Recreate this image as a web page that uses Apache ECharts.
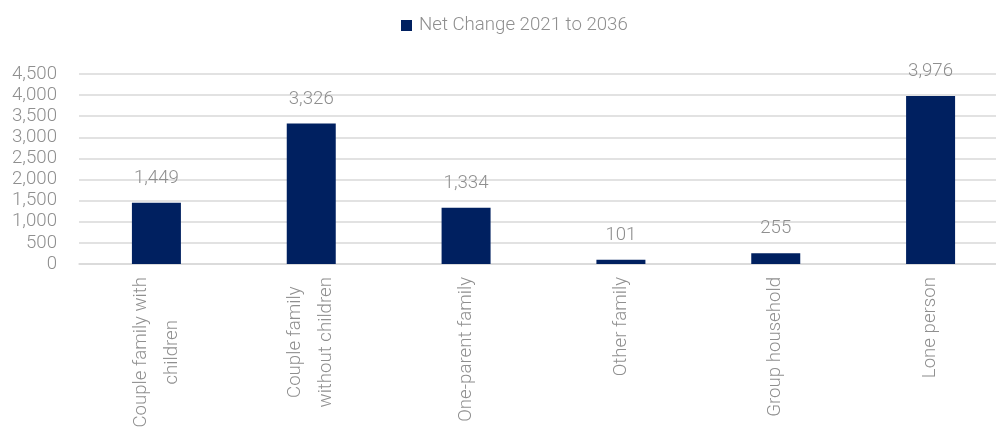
<!DOCTYPE html>
<html>
<head>
<meta charset="utf-8">
<script src="https://cdn.jsdelivr.net/npm/echarts@6/dist/echarts.min.js"></script>
<style>
html,body{margin:0;padding:0;background:#fff;overflow:hidden;}
#chart{width:1008px;height:432px;}
</style>
</head>
<body>
<div id="chart"></div>
<script>
const categories = [
  "Couple family with\nchildren",
  "Couple family\nwithout children",
  "One-parent family",
  "Other family",
  "Group household",
  "Lone person"
];
const seriesName = "Net Change 2021 to 2036";
const values = [1449, 3326, 1334, 101, 255, 3976];
const yTicks = [0, 500, 1000, 1500, 2000, 2500, 3000, 3500, 4000, 4500];

const FONT = "Roboto";
const GRAY = "#8f8f8f";
const chart = echarts.init(document.getElementById('chart'));
chart.setOption({
  animation: false,
  backgroundColor: '#fff',
  legend: {
    top: 11,
    left: 396,
    itemWidth: 11,
    itemHeight: 11,
    itemGap: 6,
    icon: 'rect',
    textStyle: {color: GRAY, fontFamily: FONT, fontWeight: 300, fontSize: 18.67, padding: [0, 0, 0, 2]},
    data: [seriesName]
  },
  grid: {left: 79, right: 0, top: 74, bottom: 168, containLabel: false},
  xAxis: {
    type: 'category',
    data: categories,
    axisLine: {show: true, lineStyle: {color: '#d9d9d9', width: 1.5}},
    axisTick: {show: false},
    axisLabel: {
      interval: 0,
      rotate: 90,
      margin: 13,
      color: GRAY,
      fontFamily: FONT,
      fontWeight: 300,
      fontSize: 18.67,
      lineHeight: 31,
      formatter: function (v) {
        return v.split('\n').map(function (s) { return '{a|' + s + '}'; }).join('\n');
      },
      rich: {a: {align: 'center', color: GRAY, fontFamily: FONT, fontWeight: 300, fontSize: 18.67, lineHeight: 31}}
    }
  },
  yAxis: {
    type: 'value',
    min: yTicks[0],
    max: yTicks[yTicks.length - 1],
    interval: 500,
    axisLine: {show: false},
    axisTick: {show: false},
    splitLine: {lineStyle: {color: '#d9d9d9', width: 1.5}},
    axisLabel: {
      margin: 22,
      color: GRAY,
      fontFamily: FONT,
      fontWeight: 300,
      fontSize: 18.67,
      formatter: function (v) { return v.toLocaleString('en-US'); }
    }
  },
  series: [{
    name: seriesName,
    type: 'bar',
    data: values,
    barWidth: 49,
    itemStyle: {color: '#002060'},
    label: {
      show: true,
      position: 'top',
      distance: 15,
      color: GRAY,
      fontFamily: FONT,
      fontWeight: 300,
      fontSize: 18.67,
      formatter: function (p) { return p.value.toLocaleString('en-US'); }
    }
  }]
});
</script>
</body>
</html>
